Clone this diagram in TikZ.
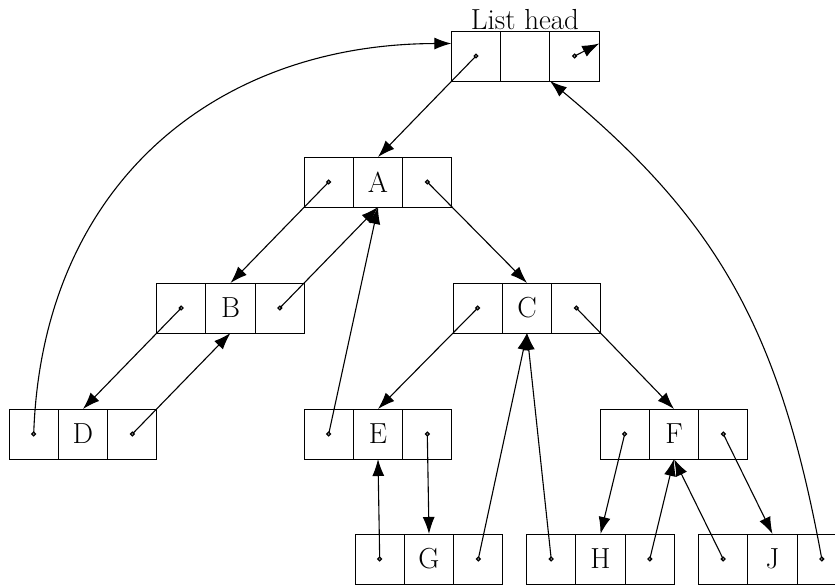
\documentclass[tikz,border=0pt]{standalone}
\usetikzlibrary{arrows.meta,calc}
% one list record: left pointer cell, label cell, right pointer cell
\newcommand\listrec[3]{%
  \node[cell] (#1m) at #2 {#3};
  \node[cell, anchor=east] (#1l) at (#1m.west) {};
  \node[cell, anchor=west] (#1r) at (#1m.east) {};
}
\begin{document}
\begin{tikzpicture}[x=1pt,y=-1pt,
  cell/.style={draw, line width=0.95pt, minimum width=49.3pt, minimum height=50pt,
    inner sep=0pt, outer sep=0pt, font=\fontsize{29}{34}\selectfont},
  ptr/.style={line width=1.1pt, -{Latex[length=17pt,width=12pt]}},
  pdot/.style={draw, fill=white, line width=1.3pt}
]
\useasboundingbox (0,0) rectangle (835,584);

% records
\listrec{Hd}{(525.3,56)}{}
\listrec{A}{(378,182)}{A}
\listrec{B}{(230.5,308)}{B}
\listrec{C}{(527,308)}{C}
\listrec{D}{(83,434)}{D}
\listrec{E}{(378,434)}{E}
\listrec{F}{(674,434)}{F}
\listrec{G}{(429,559)}{G}
\listrec{H}{(600.5,559)}{H}
\listrec{J}{(772.5,559)}{J}

\node[anchor=base, inner sep=0pt, font=\fontsize{29}{34}\selectfont] (lbl) at (525,29.5) {List head};

% connector end points on the head record
\coordinate (hdself) at ($(Hdr.east)!0.5!(Hdr.north east)$);
\coordinate (hdin) at ($(Hdl.west)!0.5!(Hdl.north west)$);

% pointers
\draw[ptr] (Hdl.center) -- (Am.north);
\draw[ptr] (Hdr.center) -- (hdself);
\draw[ptr] (Dl.center) .. controls (42,185) and (215,44) .. (hdin);
\draw[ptr] (Jr.center) .. controls (780.6,333.6) and (720,222) .. (Hdm.south east);
\draw[ptr] (Al.center) -- (Bm.north);
\draw[ptr] (Ar.center) -- (Cm.north);
\draw[ptr] (Bl.center) -- (Dm.north);
\draw[ptr] (Br.center) -- (Am.south);
\draw[ptr] (Dr.center) -- (Bm.south);
\draw[ptr] (El.center) -- (Am.south);
\draw[ptr] (Cl.center) -- (Em.north);
\draw[ptr] (Cr.center) -- (Fm.north);
\draw[ptr] (Er.center) -- (Gm.north);
\draw[ptr] (Gl.center) -- (Em.south);
\draw[ptr] (Gr.center) -- (Cm.south);
\draw[ptr] (Hl.center) -- (Cm.south);
\draw[ptr] (Fl.center) -- (Hm.north);
\draw[ptr] (Hr.center) -- (Fm.south);
\draw[ptr] (Jl.center) -- (Fm.south);
\draw[ptr] (Fr.center) -- (Jm.north);

% pointer origins
\foreach \r in {Hd,A,B,C,D,E,F,G,H,J}{
  \draw[pdot] (\r l.center) circle (1.8pt);
  \draw[pdot] (\r r.center) circle (1.8pt);
}
\end{tikzpicture}
\end{document}
